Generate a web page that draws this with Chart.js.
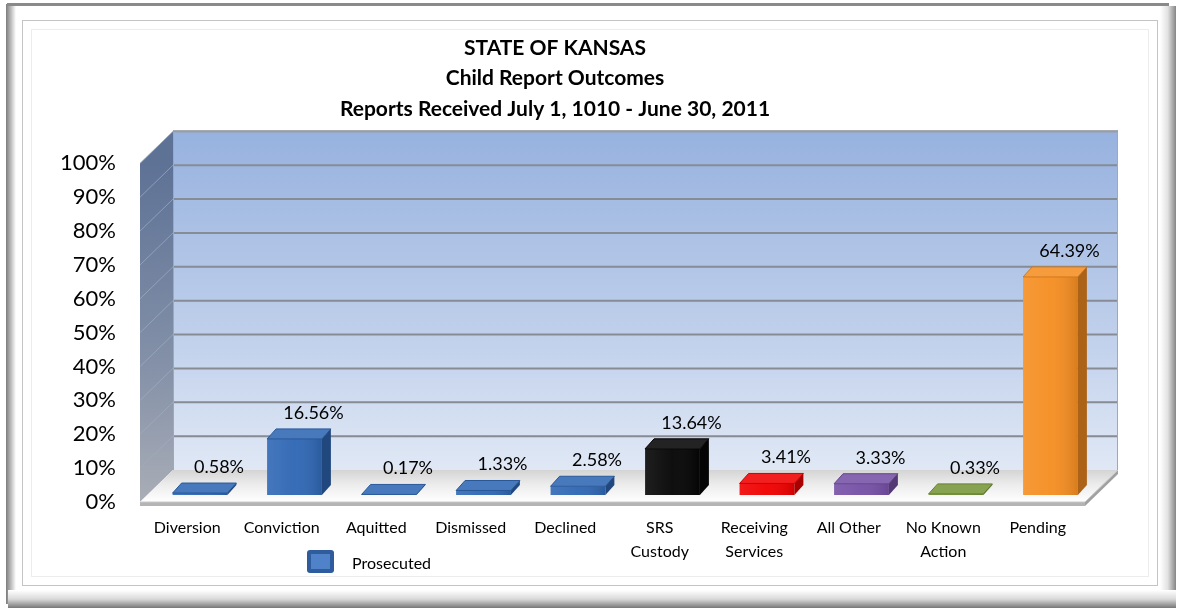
<!DOCTYPE html>
<html>
<head>
<meta charset="utf-8">
<title>Child Report Outcomes</title>
<script src="https://cdn.jsdelivr.net/npm/chart.js@4.4.1/dist/chart.umd.min.js"></script>
<style>
  html, body { margin: 0; padding: 0; background: #fff; }
  #wrap { width: 1177px; height: 608px; }
</style>
</head>
<body>
<div id="wrap"><canvas id="myChart" width="1177" height="608"></canvas></div>
<script>
// outcome categories and their share of all reports (%)
var categories = ['Diversion', 'Conviction', 'Aquitted', 'Dismissed', 'Declined',
  ['SRS', 'Custody'], ['Receiving', 'Services'], 'All Other', ['No Known', 'Action'], 'Pending'];
var percents = [0.58, 16.56, 0.17, 1.33, 2.58, 13.64, 3.41, 3.33, 0.33, 64.39];
var seriesName = 'Prosecuted';
var titleLines = ['STATE OF KANSAS', 'Child Report Outcomes', 'Reports Received July 1, 1010 - June 30, 2011'];
var yMax = 100;
var yStep = 10;

// front colour of each column
var barColors = ['#2f67b4', '#2f67b4', '#2f67b4', '#2f67b4', '#2f67b4',
  '#050505', '#f00000', '#7650a6', '#77963a', '#f58e22'];

var FONT = 'Lato, "Open Sans", sans-serif';

// 3d offsets
var wallDX = 33, wallDY = -32;       // back wall behind the front plane
var barDX = 12.75, barDY = -7;       // columns stand inside the floor
var capDX = 9, capDY = -10;          // depth of a column

function mix(hex, target, amt) {
  var n = parseInt(hex.slice(1), 16);
  var r = (n >> 16) & 255, g = (n >> 8) & 255, b = n & 255;
  var t = target == 'white' ? 255 : 0;
  r = Math.round(r + (t - r) * amt);
  g = Math.round(g + (t - g) * amt);
  b = Math.round(b + (t - b) * amt);
  return 'rgb(' + r + ',' + g + ',' + b + ')';
}

function poly(ctx, pts) {
  ctx.beginPath();
  ctx.moveTo(pts[0][0], pts[0][1]);
  for (var i = 1; i < pts.length; i++) ctx.lineTo(pts[i][0], pts[i][1]);
  ctx.closePath();
}

var box3d = {
  id: 'box3d',
  beforeDraw: function(chart) {
    var ctx = chart.ctx, w = chart.width, h = chart.height;
    ctx.save();
    ctx.fillStyle = '#fff';
    ctx.fillRect(0, 0, w, h);

    // picture frame
    var g = ctx.createLinearGradient(6, 0, 16, 0);
    g.addColorStop(0, '#7c7c7c'); g.addColorStop(1, '#ffffff');
    ctx.fillStyle = g; ctx.fillRect(6, 4, 10, 600);
    ctx.fillStyle = '#8a8a8a'; ctx.fillRect(7, 3, 1162, 3);
    g = ctx.createLinearGradient(1160, 0, 1177, 0);
    g.addColorStop(0, '#ffffff'); g.addColorStop(0.45, '#e2e2e2'); g.addColorStop(1, '#7a7a7a');
    ctx.fillStyle = g; ctx.fillRect(1160, 6, 16, 601);
    g = ctx.createLinearGradient(0, 590, 0, 608);
    g.addColorStop(0, '#ffffff'); g.addColorStop(0.5, '#dadada'); g.addColorStop(1, '#777777');
    ctx.fillStyle = g; ctx.fillRect(8, 590, 1168, 18);
    ctx.lineWidth = 1;
    ctx.strokeStyle = '#c4c4c4'; ctx.strokeRect(22.5, 20.5, 1135, 565);
    ctx.strokeStyle = '#ededed'; ctx.strokeRect(31.5, 29.5, 1117, 547);
    ctx.restore();
  },
  beforeDatasetsDraw: function(chart) {
    var ctx = chart.ctx, a = chart.chartArea, y = chart.scales.y;
    var L = a.left, R = a.right, T = a.top, B = a.bottom;
    ctx.save();

    // back wall
    var g = ctx.createLinearGradient(0, T + wallDY, 0, B + wallDY);
    g.addColorStop(0, '#97b2df'); g.addColorStop(0.55, '#bccdea'); g.addColorStop(1, '#e0e8f5');
    ctx.fillStyle = g;
    ctx.fillRect(L + wallDX, T + wallDY, R - L, B - T);

    // side wall
    g = ctx.createLinearGradient(0, T, 0, B);
    g.addColorStop(0, '#5e7296'); g.addColorStop(0.6, '#8491a8'); g.addColorStop(1, '#a9adb6');
    ctx.fillStyle = g;
    poly(ctx, [[L, T], [L + wallDX, T + wallDY], [L + wallDX, B + wallDY], [L, B]]);
    ctx.fill();

    // gridlines on the back wall and across the side wall
    y.ticks.forEach(function(t) {
      if (t.value === 0) return;
      var py = y.getPixelForValue(t.value);
      ctx.strokeStyle = '#868b94';
      ctx.lineWidth = 2;
      ctx.beginPath();
      ctx.moveTo(L + wallDX, py + wallDY);
      ctx.lineTo(R + wallDX, py + wallDY);
      ctx.stroke();
      ctx.strokeStyle = 'rgba(160,172,195,0.7)';
      ctx.lineWidth = 1;
      ctx.beginPath();
      ctx.moveTo(L, py);
      ctx.lineTo(L + wallDX, py + wallDY);
      ctx.stroke();
    });
    ctx.strokeStyle = '#a3a8b0';
    ctx.lineWidth = 1;
    ctx.strokeRect(L + wallDX + 0.5, T + wallDY + 0.5, R - L - 1, B - T);

    // floor slab
    g = ctx.createLinearGradient(0, B + wallDY, 0, B);
    g.addColorStop(0, '#d4d4d4'); g.addColorStop(0.45, '#ececec'); g.addColorStop(1, '#ffffff');
    ctx.fillStyle = g;
    poly(ctx, [[L, B], [L + wallDX, B + wallDY], [R + wallDX, B + wallDY], [R, B]]);
    ctx.fill();
    ctx.fillStyle = '#b4b4b4';
    ctx.fillRect(L, B, R - L, 4);
    poly(ctx, [[R, B], [R + wallDX, B + wallDY], [R + wallDX, B + wallDY + 4], [R, B + 4]]);
    ctx.fillStyle = '#a0a0a0';
    ctx.fill();
    ctx.strokeStyle = '#c8c8c8';
    ctx.beginPath();
    ctx.moveTo(L, B); ctx.lineTo(R, B); ctx.lineTo(R + wallDX, B + wallDY);
    ctx.stroke();

    // columns are drawn shifted into the floor, restored after the datasets
    ctx.save();
    ctx.translate(barDX, barDY);
  },
  afterDatasetsDraw: function(chart) {
    var ctx = chart.ctx;
    var meta = chart.getDatasetMeta(0);
    meta.data.forEach(function(bar, i) {
      var p = bar.getProps(['x', 'y', 'base', 'width'], true);
      var l = p.x - p.width / 2, r = p.x + p.width / 2;
      var c = barColors[i];
      // soft shading across the front face
      var g = ctx.createLinearGradient(l, 0, r, 0);
      g.addColorStop(0, 'rgba(255,255,255,0.10)');
      g.addColorStop(0.5, 'rgba(255,255,255,0.04)');
      g.addColorStop(1, 'rgba(0,0,0,0.12)');
      ctx.fillStyle = g;
      ctx.fillRect(l, p.y, p.width, p.base - p.y);
      // top face
      poly(ctx, [[l, p.y], [l + capDX, p.y + capDY], [r + capDX, p.y + capDY], [r, p.y]]);
      ctx.fillStyle = mix(c, 'white', 0.12);
      ctx.fill();
      ctx.strokeStyle = mix(c, 'black', 0.15);
      ctx.lineWidth = 1;
      ctx.stroke();
      // right face
      poly(ctx, [[r, p.y], [r + capDX, p.y + capDY], [r + capDX, p.base + capDY], [r, p.base]]);
      ctx.fillStyle = mix(c, 'black', 0.3);
      ctx.fill();
    });
    ctx.restore();

    // value labels above each column
    ctx.fillStyle = '#000';
    ctx.font = '18px ' + FONT;
    ctx.textAlign = 'center';
    ctx.textBaseline = 'middle';
    meta.data.forEach(function(bar, i) {
      var val = chart.data.datasets[0].data[i];
      ctx.fillText(val.toFixed(2) + '%', bar.x + barDX + 19, bar.y + barDY + capDY - 16);
    });

    // legend key
    var kx = 307, ky = 550;
    ctx.fillStyle = '#2f5c9c';
    ctx.beginPath();
    ctx.roundRect(kx, ky, 27, 23, 3);
    ctx.fill();
    ctx.fillStyle = '#4f82c8';
    ctx.fillRect(kx + 4, ky + 4, 19, 15);
    ctx.fillStyle = '#000';
    ctx.font = '16px ' + FONT;
    ctx.textAlign = 'left';
    ctx.fillText(chart.data.datasets[0].label, kx + 45, ky + 14);
    ctx.restore();
  }
};

var ctx = document.getElementById('myChart');

new Chart(ctx, {
  type: 'bar',
  data: {
    labels: categories,
    datasets: [{
      label: seriesName,
      data: percents,
      backgroundColor: barColors,
      borderWidth: 0,
      categoryPercentage: 1,
      barPercentage: 0.58,
      clip: false
    }]
  },
  plugins: [box3d],
  options: {
    responsive: false,
    animation: false,
    layout: { padding: { left: 25, right: 92, top: 10, bottom: 26 } },
    plugins: {
      legend: { display: false },
      tooltip: { enabled: false },
      title: {
        display: true,
        text: titleLines,
        color: '#000',
        font: { family: FONT, size: 21, weight: 'bold', lineHeight: 1.45 },
        padding: { top: 23, bottom: 39 }
      }
    },
    scales: {
      x: {
        grid: { display: false, drawTicks: false },
        border: { display: false },
        ticks: {
          color: '#000',
          font: { family: FONT, size: 16, lineHeight: 1.5 },
          padding: 14,
          maxRotation: 0,
          autoSkip: false
        },
        afterFit: function(s) { s.height = 80; }
      },
      y: {
        min: 0,
        max: yMax,
        grid: { display: false, drawTicks: false },
        border: { display: false },
        ticks: {
          stepSize: yStep,
          color: '#000',
          font: { family: FONT, size: 22 },
          padding: 24,
          callback: function(v) { return v + '%'; }
        },
        afterFit: function(s) { s.width = 115; }
      }
    }
  }
});
</script>
</body>
</html>
